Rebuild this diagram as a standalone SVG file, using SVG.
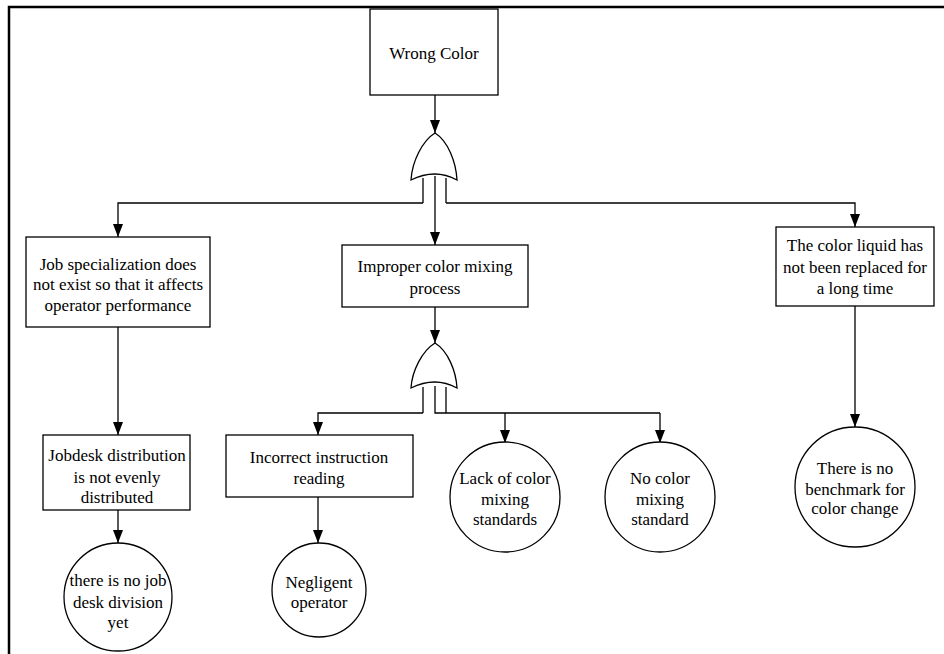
<svg xmlns="http://www.w3.org/2000/svg" width="944" height="654" viewBox="0 0 944 654">
<style>
.box{fill:#fff;stroke:#000;stroke-width:1.3}
.gate{fill:#fff;stroke:#000;stroke-width:1.3}
.ln{fill:none;stroke:#000;stroke-width:1.3}
.arr{fill:none;stroke:#000;stroke-width:1.3;marker-end:url(#ah)}
text{font-family:"Liberation Serif","Tinos","Times New Roman","DejaVu Serif",serif;font-size:17px;fill:#000;text-anchor:middle}
</style>
<defs>
<marker id="ah" markerUnits="userSpaceOnUse" markerWidth="13" markerHeight="10" viewBox="0 0 13 10" refX="13" refY="5" orient="auto">
<path d="M0,0 L13,5 L0,10 Z" fill="#000"/>
</marker>
</defs>
<rect width="944" height="654" fill="#fff"/>
<path d="M9,654 V7 H944" fill="none" stroke="#000" stroke-width="2.5"/>

<g id="connectors">
<path class="arr" d="M435,95 V133"/>
<path class="ln" d="M423,178 V203"/>
<path class="arr" d="M423,203 H118 V237"/>
<path class="ln" d="M446,178 V203"/>
<path class="arr" d="M446,203 H855 V227"/>
<path class="arr" d="M435,176 V245"/>
<path class="arr" d="M118,327 V435"/>
<path class="arr" d="M118,510 V543"/>
<path class="arr" d="M855,306 V427"/>
<path class="arr" d="M435,307 V343"/>
<path class="ln" d="M423,387 V413"/>
<path class="arr" d="M423,413 H318 V435"/>
<path class="ln" d="M435,386 V413 H660"/>
<path class="ln" d="M446,387 V413"/>
<path class="arr" d="M660,413 V443"/>
<path class="arr" d="M505,413 V443"/>
<path class="arr" d="M318,497 V543"/>
</g>

<g id="gate1">
<path class="gate" d="M435,133 C448,141 456,162 457,180 Q435,168 411,180 C412,162 422,141 435,133 Z"/>
</g>
<g id="gate2">
<path class="gate" d="M435,343 C448,351 456,371 457,388 Q435,376 411,388 C412,371 422,351 435,343 Z"/>
</g>

<g id="wrong-color">
<rect class="box" x="370" y="9" width="128" height="86"/>
<text x="434" y="59">Wrong Color</text>
</g>

<g id="job-specialization">
<rect class="box" x="26" y="237" width="184" height="90"/>
<text x="118" y="270">Job specialization does</text>
<text x="118" y="290">not exist so that it affects</text>
<text x="118" y="311">operator performance</text>
</g>

<g id="improper-mixing">
<rect class="box" x="342" y="245" width="186" height="62"/>
<text x="435" y="272">Improper color mixing</text>
<text x="435" y="294">process</text>
</g>

<g id="color-liquid">
<rect class="box" x="776" y="227" width="158" height="79"/>
<text x="855" y="251">The color liquid has</text>
<text x="855" y="273">not been replaced for</text>
<text x="855" y="294">a long time</text>
</g>

<g id="jobdesk">
<rect class="box" x="43" y="435" width="147" height="75"/>
<text x="117" y="461">Jobdesk distribution</text>
<text x="117" y="483">is not evenly</text>
<text x="117" y="503">distributed</text>
</g>

<g id="no-jobdesk-division">
<circle class="box" cx="118" cy="597" r="54"/>
<text x="118" y="586">there is no job</text>
<text x="118" y="608">desk division</text>
<text x="118" y="628">yet</text>
</g>

<g id="incorrect-instruction">
<rect class="box" x="226" y="435" width="187" height="62"/>
<text x="319" y="463">Incorrect instruction</text>
<text x="319" y="484">reading</text>
</g>

<g id="negligent-operator">
<circle class="box" cx="319" cy="590" r="47"/>
<text x="319" y="588">Negligent</text>
<text x="319" y="608">operator</text>
</g>

<g id="lack-standards">
<circle class="box" cx="505" cy="497" r="55"/>
<text x="505" y="484">Lack of color</text>
<text x="505" y="505">mixing</text>
<text x="505" y="525">standards</text>
</g>

<g id="no-standard">
<circle class="box" cx="660" cy="497" r="55"/>
<text x="660" y="484">No color</text>
<text x="660" y="505">mixing</text>
<text x="660" y="525">standard</text>
</g>

<g id="no-benchmark">
<circle class="box" cx="855" cy="487" r="60"/>
<text x="855" y="474">There is no</text>
<text x="855" y="495">benchmark for</text>
<text x="855" y="514">color change</text>
</g>
</svg>
